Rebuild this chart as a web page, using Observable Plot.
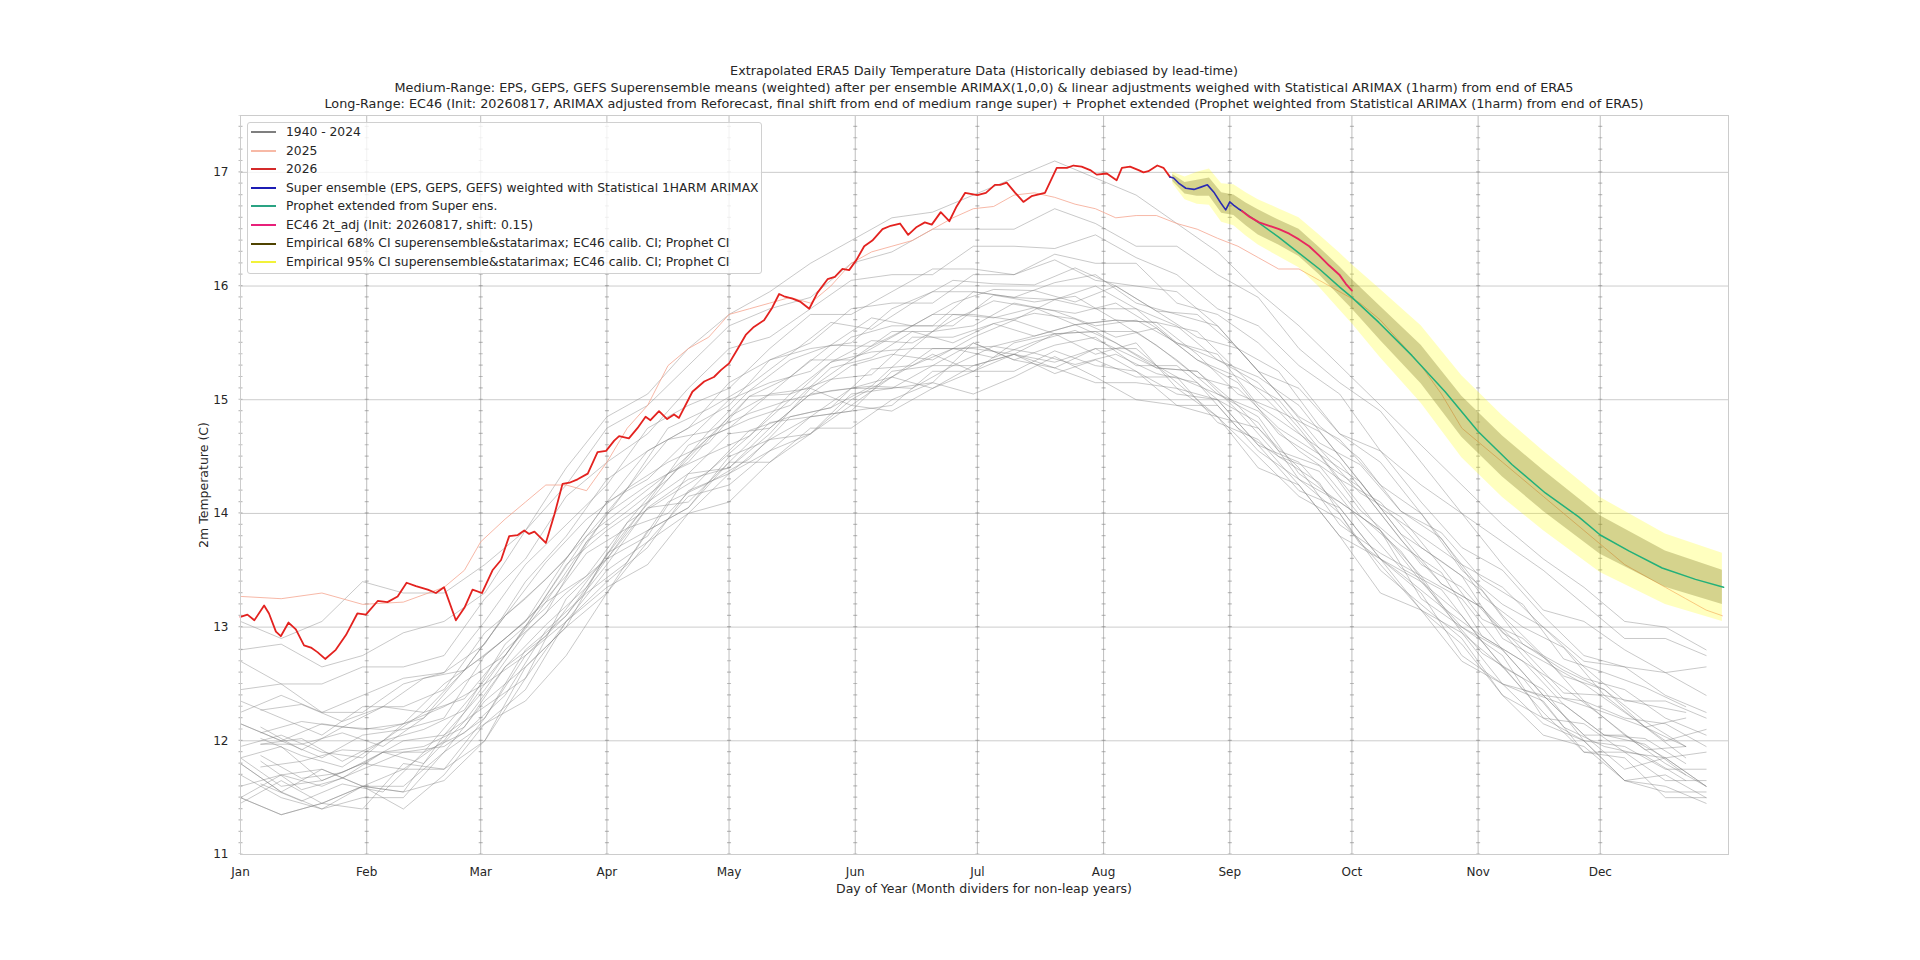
<!DOCTYPE html>
<html><head><meta charset="utf-8">
<script src="https://cdn.jsdelivr.net/npm/d3@7"></script>
<script src="https://cdn.jsdelivr.net/npm/@observablehq/plot@0.6"></script>
<style>
html,body{margin:0;padding:0;background:#fff;}
#wrap{position:relative;width:1920px;height:960px;font-family:"DejaVu Sans",sans-serif;color:#262626;overflow:hidden;}
#title{position:absolute;left:0;width:1968px;top:63px;text-align:center;font-size:12.8px;line-height:16.6px;white-space:nowrap;}
#xlabel{position:absolute;left:0;width:1968px;top:881px;text-align:center;font-size:12.5px;white-space:nowrap;}
#ylabel{position:absolute;left:203px;top:485px;transform:translate(-50%,-50%) rotate(-90deg);font-size:12.5px;white-space:nowrap;}
#legend{position:absolute;left:247px;top:122px;width:513px;height:150px;border:1px solid #d0d0d0;border-radius:3px;background:rgba(255,255,255,0.8);font-size:12.3px;}
#legend .row{height:18.55px;line-height:18.55px;white-space:nowrap;display:flex;align-items:center;}
#legend .sw{display:inline-block;width:25px;height:2px;margin-left:3px;margin-right:10px;}
#chart{position:absolute;left:0;top:0;}
</style></head>
<body>
<div id="wrap">
  <div id="chart"></div>
  <div id="title"></div>
  <div id="legend"></div>
  <div id="xlabel"></div>
  <div id="ylabel"></div>
</div>
<script>
// ---------- text ----------
const titleLines = [
  "Extrapolated ERA5 Daily Temperature Data (Historically debiased by lead-time)",
  "Medium-Range: EPS, GEPS, GEFS Superensemble means (weighted) after per ensemble ARIMAX(1,0,0) & linear adjustments weighed with Statistical ARIMAX (1harm) from end of ERA5",
  "Long-Range: EC46 (Init: 20260817, ARIMAX adjusted from Reforecast, final shift from end of medium range super) + Prophet extended (Prophet weighted from Statistical ARIMAX (1harm) from end of ERA5)"
];
const xLabel = "Day of Year (Month dividers for non-leap years)";
const yLabel = "2m Temperature (C)";
const legendLabels = ["1940 - 2024","2025","2026",
  "Super ensemble (EPS, GEPS, GEFS) weighted with Statistical 1HARM ARIMAX",
  "Prophet extended from Super ens.",
  "EC46 2t_adj (Init: 20260817, shift: 0.15)",
  "Empirical 68% CI superensemble&statarimax; EC46 calib. CI; Prophet CI",
  "Empirical 95% CI superensemble&statarimax; EC46 calib. CI; Prophet CI"];
const legendColors = ["#7f7f7f","#f7b9a6","#d42a2a","#1c1cb4","#2aa383","#e8207a","#4f4300","#f2f23a"];

// ---------- axes ----------
const monthStarts = [0,31,59,90,120,151,181,212,243,273,304,334];
const monthLabels = ["Jan","Feb","Mar","Apr","May","Jun","Jul","Aug","Sep","Oct","Nov","Dec"];
const yTicks = [11,12,13,14,15,16,17];

const histDaysA = [0,10,20,30,40,50,60,70,80,90,100,110,120,130,140,150,160,170,180,190,200,210,220,230,240,250,260,270,280,290,300,310,320,330,340,350,360];
const histDaysB = [5,15,25,35,45,55,65,75,85,95,105,115,125,135,145,155,165,175,185,195,205,215,225,235,245,255,265,275,285,295,305,315,325,335,345,355];
const h1940 = [11.80,11.55,11.75,11.60,11.55,12.05,12.30,12.55,13.25,13.60,13.80,14.35,14.40,14.70,15.10,14.95,15.20,15.40,15.25,15.50,15.58,15.40,15.50,15.10,15.00,14.80,14.30,14.10,13.85,13.25,13.00,12.75,12.20,12.15,11.90,11.85,11.60];
const h1944 = [11.45,11.65,11.45,11.40,11.80,11.75,12.00,12.65,13.00,13.30,13.85,14.05,14.45,14.45,14.70,15.00,15.20,15.10,15.25,15.40,15.23,15.35,15.20,15.20,14.80,14.65,14.25,13.80,13.60,13.30,12.75,12.50,12.35,11.90,11.85,11.50,11.50];
const h1950 = [11.50,11.35,11.45,11.60,11.40,11.70,12.15,12.35,12.75,13.30,13.75,14.00,14.10,14.45,14.75,14.75,15.00,15.15,15.05,15.20,15.38,15.20,15.00,14.95,14.85,14.40,14.25,13.80,13.30,13.15,12.85,12.40,12.05,11.95,11.65,11.60,11.45];
const h1955 = [11.80,11.55,11.40,11.60,11.75,11.75,12.20,12.75,13.05,13.40,13.70,14.20,14.35,14.65,14.70,15.05,15.10,15.15,15.50,15.35,15.28,15.45,15.25,15.05,15.00,14.60,14.20,14.05,13.60,13.15,12.95,12.65,12.25,11.90,11.90,11.65,11.65];
const h1960 = [11.50,11.70,11.75,11.60,11.60,11.90,12.35,12.65,13.00,13.65,13.85,14.05,14.50,14.65,14.85,14.90,15.25,15.30,15.30,15.40,15.33,15.45,15.45,15.15,14.85,14.75,14.40,13.90,13.65,13.45,12.95,12.50,12.40,12.05,11.75,11.85,11.60];
const h1965 = [11.50,11.35,11.45,11.60,11.55,11.65,12.00,12.55,13.05,13.35,13.55,14.00,14.35,14.55,14.70,14.95,14.90,15.10,15.30,15.40,15.28,15.15,15.15,15.10,14.85,14.50,14.15,13.95,13.55,13.15,12.70,12.50,12.15,12.00,11.65,11.55,11.55];
const h1970 = [11.60,11.70,11.60,11.75,11.90,11.95,12.20,12.80,13.10,13.55,14.05,14.10,14.45,14.80,14.85,15.10,15.10,15.30,15.50,15.35,15.48,15.55,15.30,15.30,15.00,14.60,14.45,14.05,13.60,13.40,13.10,12.65,12.45,12.00,11.95,11.75,11.75];
const h1975 = [11.70,11.50,11.40,11.50,11.50,11.90,12.15,12.45,13.05,13.50,13.75,14.15,14.25,14.55,14.85,14.90,14.95,15.25,15.25,15.25,15.43,15.30,15.25,14.95,14.95,14.55,14.30,14.00,13.50,13.20,12.90,12.40,12.20,12.00,11.65,11.70,11.50];
const h1980 = [11.85,11.95,11.65,11.80,12.00,12.05,12.45,12.95,13.30,13.60,14.10,14.35,14.70,14.75,15.05,15.30,15.40,15.35,15.55,15.70,15.58,15.60,15.60,15.35,15.05,14.90,14.55,14.30,13.85,13.45,13.25,12.80,12.40,12.35,12.05,11.85,11.90];
const h1985 = [11.85,11.60,11.65,11.80,11.75,12.00,12.50,12.75,13.10,13.60,14.05,14.30,14.40,14.75,15.05,15.10,15.20,15.45,15.45,15.40,15.58,15.60,15.40,15.20,15.05,14.85,14.35,14.10,13.85,13.40,13.00,12.80,12.40,12.05,12.05,11.80,11.60];
const h1990 = [11.95,12.05,11.90,11.85,12.15,12.30,12.50,13.00,13.55,13.85,14.10,14.60,14.75,15.05,15.10,15.35,15.60,15.60,15.65,15.85,15.78,15.65,15.70,15.50,15.40,14.95,14.70,14.45,14.00,13.55,13.35,12.95,12.75,12.35,12.20,12.15,11.95];
const h1995 = [12.15,12.00,11.85,12.05,12.10,12.20,12.75,13.05,13.45,14.00,14.25,14.45,14.85,15.05,15.35,15.35,15.55,15.75,15.75,15.70,15.88,15.80,15.80,15.50,15.35,15.15,14.75,14.30,14.10,13.70,13.45,12.90,12.70,12.50,12.25,12.00,12.10];
const h2000 = [12.15,12.00,12.15,12.10,12.15,12.50,12.75,13.05,13.60,14.10,14.30,14.65,15.00,15.15,15.25,15.55,15.65,15.65,15.95,15.90,15.88,16.00,15.80,15.65,15.35,15.20,14.95,14.50,14.05,13.80,13.55,13.10,12.75,12.55,12.45,12.20,12.05];
const h2005 = [12.35,12.20,12.05,12.30,12.30,12.45,12.95,13.25,13.60,14.10,14.55,14.75,14.95,15.35,15.45,15.50,15.80,15.95,15.95,15.90,16.03,16.10,15.85,15.75,15.65,15.25,14.85,14.65,14.25,14.00,13.50,13.20,13.00,12.65,12.35,12.35,12.20];
const h2010 = [12.25,12.40,12.25,12.25,12.50,12.60,12.85,13.40,13.80,14.30,14.55,14.75,15.15,15.35,15.50,15.80,15.85,15.85,16.10,16.10,16.23,16.05,16.00,15.95,15.65,15.25,15.10,14.70,14.45,14.00,13.55,13.35,13.00,12.70,12.65,12.40,12.25];
const h2015 = [12.45,12.50,12.25,12.40,12.55,12.60,13.05,13.55,13.90,14.25,14.75,14.95,15.10,15.45,15.75,15.75,15.95,16.15,16.15,16.10,16.28,16.20,16.20,15.85,15.75,15.50,15.15,14.70,14.55,14.10,13.70,13.50,13.10,12.75,12.65,12.60,12.40];
const h2020 = [12.70,12.50,12.50,12.65,12.65,12.75,13.25,13.60,14.15,14.45,14.70,15.10,15.45,15.55,15.80,16.05,16.10,16.10,16.35,16.35,16.33,16.45,16.25,16.10,15.80,15.65,15.30,15.05,14.55,14.25,14.00,13.55,13.15,13.05,12.80,12.60,12.65];
const h2023 = [12.80,12.85,12.65,12.75,12.95,13.05,13.30,13.85,14.25,14.75,14.95,15.30,15.65,15.80,15.90,16.20,16.30,16.50,16.50,16.50,16.68,16.55,16.35,16.35,16.10,15.90,15.45,15.15,14.90,14.45,14.00,13.75,13.50,13.20,12.90,12.90,12.75];
const h2024 = [13.05,12.90,13.05,13.40,13.30,13.30,13.55,13.85,14.40,14.85,15.05,15.45,15.75,15.95,16.20,16.40,16.60,16.65,16.80,16.95,17.10,16.95,16.80,16.55,16.30,15.95,15.65,15.30,14.95,14.60,14.25,13.90,13.60,13.35,13.05,13.00,12.80];
// years sampled on the offset grid (histDaysB)
const h1942 = [11.82,11.57,11.67,11.90,11.80,12.17,12.65,12.92,13.40,13.87,14.00,14.37,14.73,14.85,14.93,15.27,15.30,15.45,15.37,15.51,15.61,15.45,15.28,15.25,14.90,14.50,14.37,13.93,13.52,13.33,12.87,12.45,12.32,12.05,11.97,11.70];
const h1948 = [11.77,11.82,11.92,11.90,11.90,12.32,12.75,13.22,13.45,13.92,14.35,14.52,14.68,15.05,15.18,15.22,15.55,15.55,15.67,15.56,15.66,15.70,15.48,15.20,15.10,14.75,14.52,14.03,13.72,13.48,12.92,12.70,12.47,12.20,11.92,11.95];
const h1958 = [11.97,12.02,11.82,12.00,12.25,12.37,12.80,13.12,13.75,14.02,14.30,14.72,14.88,15.00,15.33,15.42,15.45,15.75,15.72,15.81,15.66,15.70,15.68,15.40,15.05,14.90,14.52,14.28,13.82,13.38,13.17,12.80,12.42,12.40,12.12,11.95];
const h1963 = [12.12,11.92,12.12,12.10,12.20,12.62,12.90,13.22,13.75,14.22,14.45,14.62,15.03,15.20,15.48,15.47,15.65,15.65,15.92,15.86,15.91,15.70,15.68,15.60,15.25,14.90,14.72,14.28,13.82,13.58,13.32,12.85,12.62,12.45,12.12,12.20];
const h1972 = [11.62,11.47,11.62,11.55,11.90,12.07,12.40,12.97,13.30,13.57,14.10,14.27,14.48,14.85,14.93,15.12,15.10,15.30,15.47,15.41,15.31,15.40,15.23,15.15,14.75,14.50,14.27,13.73,13.47,13.18,12.77,12.55,12.12,11.95,11.87,11.65];
const h1978 = [12.07,12.17,12.12,12.30,12.25,12.62,13.10,13.42,13.80,14.22,14.65,14.72,15.08,15.35,15.48,15.72,15.65,15.85,15.97,15.96,15.86,16.00,15.78,15.55,15.45,15.05,14.62,14.43,14.02,13.78,13.27,13.00,12.82,12.40,12.32,12.25];
const h1983 = [12.02,11.87,11.77,12.00,12.10,12.27,12.85,13.17,13.65,13.87,14.30,14.67,14.83,14.95,15.28,15.37,15.60,15.50,15.67,15.76,15.71,15.55,15.63,15.35,15.15,14.70,14.47,14.23,13.77,13.38,13.17,12.75,12.37,12.25,12.12,11.85];
const h1988 = [12.27,12.32,12.17,12.30,12.55,12.62,13.10,13.57,13.95,14.22,14.75,14.92,15.13,15.40,15.68,15.62,15.85,16.05,16.02,16.01,16.16,16.00,15.78,15.75,15.45,15.25,14.77,14.48,14.02,13.83,13.42,13.20,12.72,12.60,12.47,12.30];
const h1993 = [11.97,11.97,12.07,11.95,12.20,12.52,12.75,13.27,13.80,14.07,14.35,14.67,15.03,15.05,15.33,15.52,15.50,15.70,15.87,15.81,15.76,15.85,15.63,15.35,15.20,15.00,14.57,14.18,13.97,13.53,13.07,12.90,12.57,12.45,12.17,11.95];
const h1998 = [11.87,11.67,11.72,11.90,11.95,12.12,12.65,13.02,13.35,13.92,14.15,14.37,14.68,15.00,15.08,15.12,15.45,15.45,15.47,15.56,15.66,15.50,15.28,15.25,14.95,14.55,14.42,13.98,13.67,13.18,12.92,12.70,12.32,12.05,12.02,11.80];
const histGridA = {1940:h1940,1944:h1944,1950:h1950,1955:h1955,1960:h1960,1965:h1965,1970:h1970,1975:h1975,1980:h1980,1985:h1985,1990:h1990,1995:h1995,2000:h2000,2005:h2005,2010:h2010,2015:h2015,2020:h2020,2023:h2023,2024:h2024};
const histGridB = {1942:h1942,1948:h1948,1958:h1958,1963:h1963,1972:h1972,1978:h1978,1983:h1983,1988:h1988,1993:h1993,1998:h1998};

// ---------- 2025 ----------
const days2025 = [0,10,20,30,40,50,55,59,65,70,75,80,85,90,95,100,105,110,115,120,125,130,135,140,145,150,155,160,165,170,175,180,185,190,195,200,205,210,215,220,225,230,235,240,245,250,255,260,265,270,275,280,285,290,295,300,305,310,315,320,325,330,335,340,345,350,355,360,364];
const temps2025 = [13.27,13.25,13.30,13.20,13.22,13.35,13.50,13.75,13.95,14.10,14.25,14.25,14.20,14.45,14.75,14.95,15.30,15.45,15.55,15.75,15.80,15.85,15.90,15.85,16.00,16.20,16.30,16.35,16.40,16.50,16.60,16.68,16.70,16.80,16.82,16.78,16.72,16.68,16.60,16.62,16.62,16.55,16.50,16.42,16.35,16.25,16.15,16.15,16.05,15.95,15.85,15.70,15.50,15.30,15.05,14.75,14.60,14.45,14.30,14.15,14.00,13.85,13.70,13.55,13.45,13.35,13.25,13.15,13.10];

// ---------- 2026 (ERA5) ----------
const days2026 = [0,1.7,3.4,5.8,7,8.7,9.9,11.8,13.6,15.6,17.3,18.9,20.8,23.4,25.9,28.7,30.8,33.7,36.1,38.6,40.8,43.1,46,48,50,52.9,55,57,59.3,61.9,64,66,68.1,69.7,70.9,72.2,75,77.1,79.1,80.8,82.8,85.3,87.7,89.8,91.8,93,95.4,97.5,99.5,100.7,102.8,104.8,106.5,107.7,111,113.9,116.3,118,120,122,124.1,126.1,128.6,130.6,132.3,133.5,135.6,137.6,139.7,141.7,144.2,146,147.8,149.5,151.3,153.2,155.2,157.7,159.7,162,164,166.1,168.1,169.8,172,174.1,175.9,178,181,183.1,185.3,186.6,188.2,190.3,192.3,194.3,197.6,200.5,203,204.6,206.6,208.7,210.3,212.8,215.2,216.5,218.5,220.6,221.8,223,225.2,226.7,228.3];
const temps2026 = [13.09,13.11,13.06,13.19,13.12,12.96,12.92,13.04,12.98,12.84,12.82,12.78,12.72,12.80,12.93,13.12,13.11,13.23,13.22,13.27,13.39,13.36,13.33,13.30,13.35,13.06,13.17,13.33,13.30,13.50,13.59,13.80,13.81,13.85,13.82,13.84,13.74,13.99,14.26,14.27,14.30,14.35,14.54,14.55,14.64,14.68,14.66,14.75,14.85,14.82,14.90,14.83,14.87,14.84,15.07,15.16,15.20,15.26,15.32,15.44,15.57,15.64,15.70,15.81,15.93,15.91,15.89,15.86,15.80,15.94,16.06,16.08,16.15,16.14,16.23,16.35,16.40,16.50,16.53,16.55,16.45,16.52,16.56,16.54,16.65,16.57,16.70,16.82,16.80,16.82,16.89,16.89,16.91,16.82,16.74,16.79,16.82,17.04,17.04,17.06,17.05,17.02,16.98,16.99,16.93,17.04,17.05,17.02,17.00,17.01,17.06,17.04,16.96];

// ---------- Super ensemble (medium range) ----------
const daysSuper = [228.3,229.2,230.6,232.2,234.2,235.9,237.5,239.2,240.8,242,243,244,245.1,246];
const tempsSuper = [16.96,16.95,16.90,16.86,16.85,16.87,16.89,16.82,16.73,16.67,16.74,16.71,16.68,16.66];

// ---------- EC46 adjusted ----------
const daysEC46 = [246,247.8,250.2,252.7,255.1,257.6,260,262.5,264.9,267.4,269.9,271.5,273];
const tempsEC46 = [16.66,16.61,16.56,16.53,16.50,16.46,16.41,16.35,16.27,16.18,16.10,16.02,15.96];

// ---------- Prophet extended ----------
const daysProphet = [246,250,255,260,265,270,273,279.6,287.7,295.9,304,312.3,320.5,328.7,334,341,349.2,357.4,364.3];
const tempsProphet = [16.66,16.56,16.43,16.29,16.15,15.99,15.90,15.68,15.39,15.07,14.72,14.43,14.18,13.97,13.81,13.67,13.52,13.42,13.35];

// ---------- confidence bands ----------
const bandDays = [229,232,235,238,241,244,247,250,255,260,265,270,273,280,290,300,310,320,334,350,364];
const ci68Lo = [16.92,16.81,16.79,16.79,16.64,16.62,16.53,16.45,16.36,16.26,16.10,15.91,15.80,15.52,15.14,14.67,14.32,14.02,13.64,13.35,13.20];
const ci68Hi = [16.98,16.91,16.93,16.95,16.82,16.80,16.73,16.67,16.58,16.50,16.34,16.17,16.06,15.82,15.48,15.03,14.68,14.38,13.98,13.67,13.50];
const ci95Lo = [16.90,16.76,16.72,16.71,16.56,16.53,16.44,16.36,16.26,16.16,15.99,15.79,15.67,15.37,14.97,14.49,14.14,13.85,13.48,13.20,13.05];
const ci95Hi = [17.00,16.96,17.00,17.03,16.90,16.89,16.82,16.76,16.68,16.60,16.45,16.29,16.19,15.97,15.65,15.21,14.86,14.55,14.14,13.82,13.65];

// ---------- build tables ----------
const zipRows = (ds, ts) => ds.map((d, i) => ({day: d, t: ts[i]}));
const histRows = [];
for (const [grid, days] of [[histGridA, histDaysA], [histGridB, histDaysB]]) {
  for (const [yr, vals] of Object.entries(grid)) {
    vals.forEach((v, i) => { if (i < days.length) histRows.push({year: yr, day: days[i], t: v}); });
  }
}
const rows2025 = zipRows(days2025, temps2025);
const rows2026 = zipRows(days2026, temps2026);
const rowsSuper = zipRows(daysSuper, tempsSuper);
const rowsEC46 = zipRows(daysEC46, tempsEC46);
const rowsProphet = zipRows(daysProphet, tempsProphet);
const bandRows = bandDays.map((d, i) => ({day: d, lo68: ci68Lo[i], hi68: ci68Hi[i], lo95: ci95Lo[i], hi95: ci95Hi[i]}));

const chart = Plot.plot({
  width: 1920, height: 960,
  marginLeft: 240, marginRight: 192, marginTop: 115, marginBottom: 106,
  style: {fontFamily: "'DejaVu Sans', sans-serif", fontSize: "12px", color: "#262626", background: "transparent"},
  x: {domain: [0, 365.5]},
  y: {domain: [11, 17.5]},
  marks: [
    Plot.gridY(yTicks, {stroke: "#cccccc", strokeOpacity: 1, strokeWidth: 1}),
    Plot.ruleX(monthStarts, {stroke: "#8a8a8a", strokeWidth: 0.8, strokeOpacity: 0.7}),
    Plot.ruleX(monthStarts, {stroke: "#8a8a8a", strokeWidth: 4, strokeOpacity: 0.55, strokeDasharray: "1.2,10.17", strokeDashoffset: 0.6}),
    Plot.line(histRows, {x: "day", y: "t", z: "year", stroke: "#808080", strokeWidth: 0.85, strokeOpacity: 0.5}),
    Plot.line(rows2025, {x: "day", y: "t", stroke: "#f4a08a", strokeWidth: 1, strokeOpacity: 0.75}),
    Plot.areaY(bandRows, {x: "day", y1: "lo95", y2: "hi95", fill: "#ffff00", fillOpacity: 0.25}),
    Plot.areaY(bandRows, {x: "day", y1: "lo68", y2: "hi68", fill: "#5c5400", fillOpacity: 0.26}),
    Plot.line(rows2026, {x: "day", y: "t", stroke: "#e3221f", strokeWidth: 1.8}),
    Plot.line(rowsSuper, {x: "day", y: "t", stroke: "#2a2ab2", strokeWidth: 1.6}),
    Plot.line(rowsProphet, {x: "day", y: "t", stroke: "#22b07a", strokeWidth: 1.5}),
    Plot.line(rowsEC46, {x: "day", y: "t", stroke: "#e8285f", strokeWidth: 1.9}),
    Plot.frame({stroke: "#cccccc"}),
    Plot.axisX(monthStarts, {tickFormat: d => monthLabels[monthStarts.indexOf(d)], tickSize: 0, tickPadding: 13, label: null, fontSize: 12}),
    Plot.axisY(yTicks, {tickFormat: d => String(d), tickSize: 0, tickPadding: 12, label: null, fontSize: 12})
  ]
});
document.getElementById("chart").appendChild(chart);

document.getElementById("title").innerHTML = titleLines.map(s => `<div>${s.replace(/&/g,"&amp;")}</div>`).join("");
document.getElementById("xlabel").textContent = xLabel;
document.getElementById("ylabel").textContent = yLabel;
document.getElementById("legend").innerHTML = legendLabels.map((s, i) =>
  `<div class="row"><span class="sw" style="background:${legendColors[i]}"></span>${s.replace(/&/g,"&amp;")}</div>`).join("");
</script>
</body></html>
